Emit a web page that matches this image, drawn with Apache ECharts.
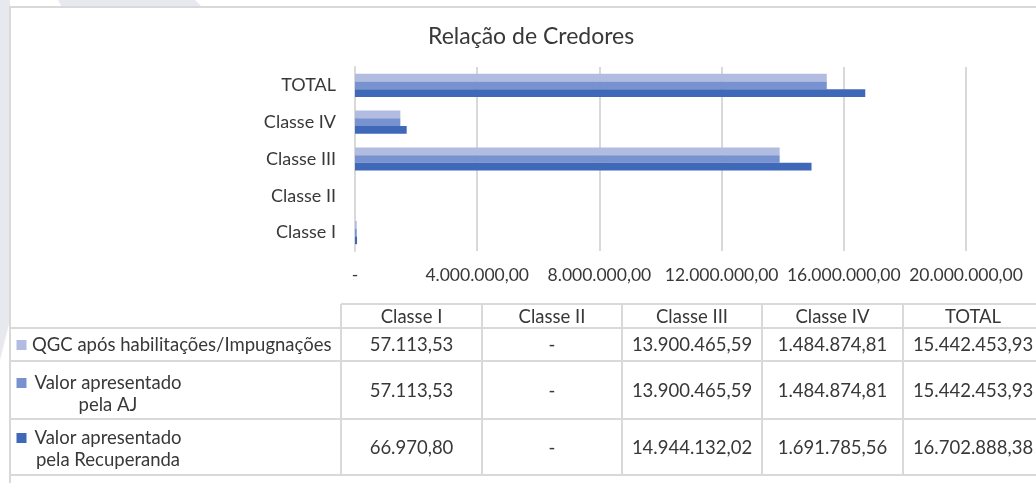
<!DOCTYPE html>
<html>
<head>
<meta charset="utf-8">
<script src="https://cdn.jsdelivr.net/npm/echarts@6/dist/echarts.min.js"></script>
<style>
  html, body { margin: 0; padding: 0; background: #fff; }
  #chart { width: 1036px; height: 483px; }
</style>
</head>
<body>
<div id="chart"></div>
<script>
// data
const categories = ['Classe I', 'Classe II', 'Classe III', 'Classe IV', 'TOTAL'];
const seriesNames = ['QGC após habilitações/Impugnações', 'Valor apresentado pela AJ', 'Valor apresentado pela Recuperanda'];
const legendLabels = ['QGC após habilitações/Impugnações', 'Valor apresentado\npela AJ', 'Valor apresentado\npela Recuperanda'];
const qgcValues = [57113.53, 0, 13900465.59, 1484874.81, 15442453.93];
const ajValues = [57113.53, 0, 13900465.59, 1484874.81, 15442453.93];
const recuperandaValues = [66970.80, 0, 14944132.02, 1691785.56, 16702888.38];
const axisMax = 20000000;
const axisStep = 4000000;

const colors = ['#B1BCE0', '#7892CF', '#3F69B8'];
const seriesValues = [qgcValues, ajValues, recuperandaValues];
const font = 'Lato';
const textColor = '#383838';
const lineColor = '#d9d9d9';
const tableFont = '18.5px ' + font;

// 1.234.567,89 ; zero shows as "-"
function fmt(v) {
  if (!v) return '-';
  let parts = v.toFixed(2).split('.');
  let int = parts[0].replace(/\B(?=(\d{3})+(?!\d))/g, '.');
  return int + ',' + parts[1];
}

// table layout (below the plot)
const colX = [341, 482, 622, 762, 903, 1043];
const rowY = [304, 328, 361, 419, 475];
const keyLineY = [345, 383, 438];
const labelCenterX = [null, 108, 108];

let graphic = [];
// outer background shapes
graphic.push({ type: 'rect', shape: { x: 0, y: 0, width: 1036, height: 483 }, style: { fill: '#fff' }, z: -10 });
graphic.push({ type: 'polygon', shape: { points: [[0, 0], [10, 0], [10, 320], [0, 360]] }, style: { fill: '#e8e8ef' }, z: -9 });
graphic.push({ type: 'polygon', shape: { points: [[58, 0], [195, 0], [202, 7], [62, 7]] }, style: { fill: '#e8e8ef' }, z: -9 });
// chart box border
graphic.push({ type: 'polyline', shape: { points: [[1036, 7], [10, 7], [10, 483]] }, style: { stroke: lineColor, lineWidth: 2, fill: null } });

// table lines
graphic.push({ type: 'line', shape: { x1: colX[0], y1: rowY[0], x2: 1036, y2: rowY[0] }, style: { stroke: lineColor, lineWidth: 2 } });
for (let i = 1; i < rowY.length; i++) {
  graphic.push({ type: 'line', shape: { x1: 10, y1: rowY[i], x2: 1036, y2: rowY[i] }, style: { stroke: lineColor, lineWidth: 2 } });
}
for (let i = 0; i < colX.length; i++) {
  graphic.push({ type: 'line', shape: { x1: colX[i], y1: rowY[0], x2: colX[i], y2: rowY[4] }, style: { stroke: lineColor, lineWidth: 2 } });
}
// header
categories.forEach(function (c, i) {
  graphic.push({ type: 'text', x: (colX[i] + colX[i + 1]) / 2, y: (rowY[0] + rowY[1]) / 2 + 1,
    style: { text: c, fill: textColor, font: tableFont, align: 'center', verticalAlign: 'middle' } });
});
// body rows
seriesValues.forEach(function (vals, r) {
  let cy = (rowY[r + 1] + rowY[r + 2]) / 2 + 1;
  vals.forEach(function (v, i) {
    graphic.push({ type: 'text', x: (colX[i] + colX[i + 1]) / 2, y: cy,
      style: { text: fmt(v), fill: textColor, font: tableFont, align: 'center', verticalAlign: 'middle' } });
  });
  graphic.push({ type: 'rect', shape: { x: 16.5, y: keyLineY[r] - 5, width: 10, height: 10 }, style: { fill: colors[r] } });
  if (r === 0) {
    graphic.push({ type: 'text', x: 32, y: keyLineY[r],
      style: { text: legendLabels[r], fill: textColor, font: tableFont, align: 'left', verticalAlign: 'middle' } });
  } else {
    graphic.push({ type: 'text', x: labelCenterX[r], y: keyLineY[r] - 11,
      style: { text: legendLabels[r], fill: textColor, font: tableFont, lineHeight: 22, align: 'center', verticalAlign: 'top' } });
  }
});

let chart = echarts.init(document.getElementById('chart'), null, { renderer: 'canvas' });
chart.setOption({
  animation: false,
  color: colors,
  title: {
    text: 'Relação de Credores',
    left: 423,
    top: 20,
    textStyle: { fontFamily: font, fontSize: 23, fontWeight: 'normal', color: textColor }
  },
  grid: { left: 355, right: 70, top: 67, bottom: 232 },
  xAxis: {
    type: 'value',
    min: 0,
    max: axisMax,
    interval: axisStep,
    axisLine: { show: false },
    axisTick: { show: false },
    splitLine: { lineStyle: { color: lineColor, width: 2 } },
    axisLabel: {
      margin: 15,
      color: textColor,
      fontFamily: font,
      fontSize: 17.5,
      formatter: function (v) { return fmt(v); }
    }
  },
  yAxis: {
    type: 'category',
    data: categories,
    axisTick: { show: false },
    axisLine: { lineStyle: { color: lineColor, width: 2 } },
    axisLabel: { margin: 19, color: textColor, fontFamily: font, fontSize: 18 }
  },
  series: seriesValues.map(function (vals, i) {
    return {
      name: seriesNames[i],
      type: 'bar',
      data: vals,
      barGap: '0%',
      barCategoryGap: '37%',
      itemStyle: { color: colors[i] }
    };
  }),
  graphic: graphic
});
</script>
</body>
</html>
